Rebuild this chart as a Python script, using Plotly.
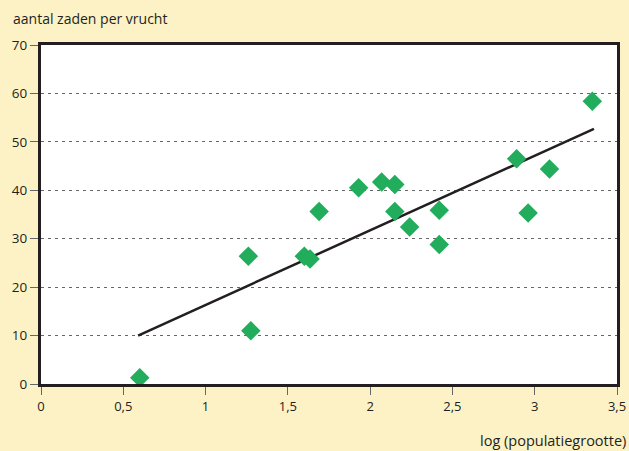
import plotly.graph_objects as go

# data
log_pop = [0.60, 1.26, 1.275, 1.60, 1.635, 1.69, 1.93, 2.07, 2.15, 2.15, 2.24, 2.42, 2.42, 2.89, 2.96, 3.09, 3.35]
seeds = [1.3, 26.4, 11.0, 26.4, 25.8, 35.6, 40.5, 41.7, 41.2, 35.6, 32.4, 35.9, 28.8, 46.5, 35.3, 44.4, 58.4]
trend_x = [0.59, 3.36]
trend_y = [10.0, 52.7]

x_ticks = [0, 0.5, 1, 1.5, 2, 2.5, 3, 3.5]
x_ticktext = ["0", "0,5", "1", "1,5", "2", "2,5", "3", "3,5"]
y_ticks = [0, 10, 20, 30, 40, 50, 60, 70]

ink = "#231f20"
bg = "#fdf2c5"

fig = go.Figure()
fig.add_trace(go.Scatter(x=trend_x, y=trend_y, mode="lines",
                         line=dict(color=ink, width=2.5), hoverinfo="skip"))
fig.add_trace(go.Scatter(x=log_pop, y=seeds, mode="markers",
                         marker=dict(symbol="diamond", size=15, color="#21ad5b",
                                     line=dict(width=0))))

fig.update_layout(
    width=629, height=451,
    paper_bgcolor=bg, plot_bgcolor="white",
    margin=dict(l=41, r=12, t=45, b=67, autoexpand=False),
    showlegend=False,
    font=dict(family="Open Sans", size=13, color=ink),
    xaxis=dict(range=[0, 3.5], tickvals=x_ticks, ticktext=x_ticktext,
               showgrid=False, zeroline=False, automargin=False,
               showline=True, mirror=True, linecolor=ink, linewidth=3,
               ticks="outside", ticklen=8, tickcolor="#666", tickwidth=1.2,
               tickfont=dict(size=13, color=ink)),
    yaxis=dict(range=[0, 70], tickvals=y_ticks, automargin=False,
               showgrid=True, gridcolor="#666", gridwidth=1, griddash="3px,4px",
               zeroline=False,
               showline=True, mirror=True, linecolor=ink, linewidth=3,
               ticks="outside", ticklen=8, tickcolor="#666", tickwidth=1.2,
               tickfont=dict(size=13.5, color=ink)),
    annotations=[
        dict(text="aantal zaden per vrucht", xref="paper", yref="paper",
             x=-30/576, y=1 + 27/339, xanchor="left", yanchor="middle",
             showarrow=False, font=dict(size=14, color=ink)),
        dict(text="log (populatiegrootte)", xref="paper", yref="paper",
             x=1 + 11/576, y=-56/339, xanchor="right", yanchor="middle",
             showarrow=False, font=dict(size=14.5, color=ink)),
    ],
)

fig.write_html("out.html",
               config={"displayModeBar": False},
               post_script="document.body.style.margin='0';document.body.style.overflow='hidden';")
